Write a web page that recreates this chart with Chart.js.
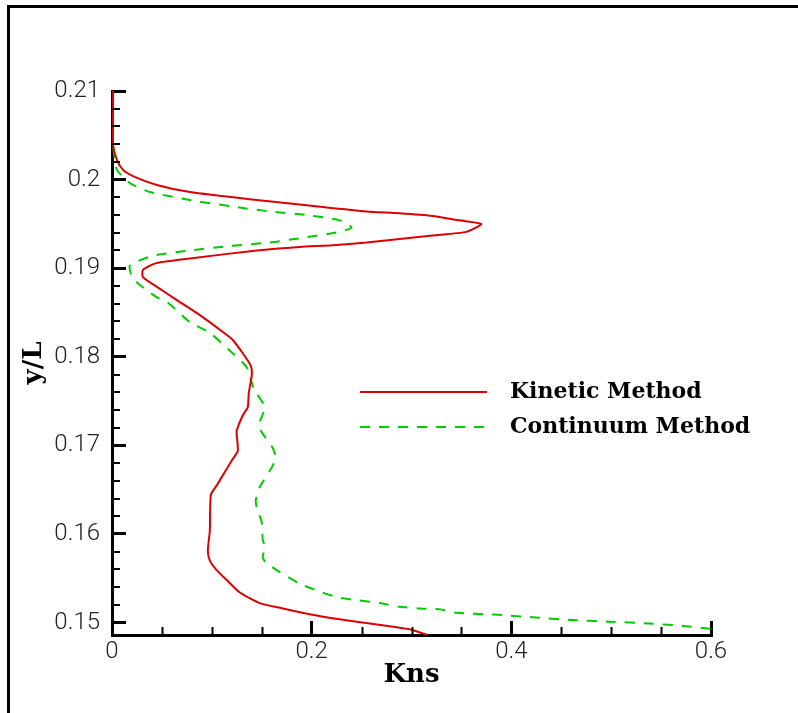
<!DOCTYPE html>
<html>
<head>
<meta charset="utf-8">
<script src="https://cdn.jsdelivr.net/npm/chart.js@4"></script>
<style>
  html, body { margin: 0; padding: 0; background: #fff; overflow: hidden; }
  #wrap { position: relative; width: 798px; height: 713px; }
  #frame { position: absolute; left: 7px; top: 5px; width: 2000px; height: 2000px;
           border-left: 3px solid #000; border-top: 3px solid #000; pointer-events: none; }
</style>
</head>
<body>
<div id="wrap">
  <canvas id="profileChart" width="798" height="713"></canvas>
  <div id="frame"></div>
</div>
<script>
// values, listed top to bottom
const yKinetic = [0.2100, 0.2050, 0.2039, 0.2022, 0.2011, 0.2004, 0.1994, 0.1986, 0.1977,
  0.1972, 0.1969, 0.1964, 0.1962, 0.1959, 0.1954, 0.1950, 0.1941, 0.1937, 0.1933, 0.1929,
  0.1926, 0.1924, 0.1920, 0.1911, 0.1906, 0.1898, 0.1890, 0.1879, 0.1864, 0.1847, 0.1828,
  0.1819, 0.1804, 0.1790, 0.1779, 0.1759, 0.1743, 0.1734, 0.1717, 0.1711, 0.1694, 0.1683,
  0.1670, 0.1655, 0.1644, 0.1604, 0.1581, 0.1570, 0.1559, 0.1548, 0.1534, 0.1522, 0.1516,
  0.1508, 0.1502, 0.1497, 0.1492, 0.1486];
const kinetic = [0.001, 0.001, 0.001, 0.005, 0.011, 0.021, 0.045, 0.078, 0.145,
  0.188, 0.211, 0.255, 0.288, 0.321, 0.348, 0.370, 0.355, 0.321, 0.288, 0.255,
  0.221, 0.188, 0.145, 0.078, 0.045, 0.031, 0.031, 0.045, 0.065, 0.088, 0.111,
  0.121, 0.131, 0.139, 0.140, 0.137, 0.136, 0.131, 0.125, 0.125, 0.126, 0.120,
  0.113, 0.105, 0.099, 0.098, 0.096, 0.098, 0.105, 0.115, 0.128, 0.148, 0.171,
  0.205, 0.238, 0.271, 0.300, 0.316];

const yContinuum = [0.2100, 0.2040, 0.2030, 0.2011, 0.1996, 0.1986, 0.1977, 0.1970, 0.1964,
  0.1960, 0.1954, 0.1946, 0.1941, 0.1935, 0.1929, 0.1925, 0.1920, 0.1914, 0.1903, 0.1890,
  0.1881, 0.1867, 0.1861, 0.1839, 0.1827, 0.1807, 0.1788, 0.1764, 0.1743, 0.1723, 0.1715,
  0.1697, 0.1686, 0.1675, 0.1653, 0.1638, 0.1630, 0.1613, 0.1593, 0.1587, 0.1573, 0.1567,
  0.1557, 0.1544, 0.1535, 0.1528, 0.1525, 0.1522, 0.1518, 0.1516, 0.1515, 0.1511, 0.1509,
  0.1506, 0.1503, 0.1501, 0.1499, 0.1496, 0.1493];
const continuum = [0.001, 0.001, 0.002, 0.005, 0.018, 0.038, 0.078, 0.118, 0.158,
  0.195, 0.228, 0.240, 0.228, 0.195, 0.158, 0.118, 0.078, 0.041, 0.018, 0.020,
  0.028, 0.045, 0.056, 0.078, 0.098, 0.118, 0.135, 0.142, 0.153, 0.147, 0.150,
  0.161, 0.164, 0.160, 0.148, 0.144, 0.145, 0.150, 0.151, 0.153, 0.151, 0.155,
  0.168, 0.188, 0.208, 0.228, 0.248, 0.268, 0.288, 0.308, 0.328, 0.345, 0.383,
  0.421, 0.460, 0.498, 0.538, 0.575, 0.600];

const xTicks = [0, 0.2, 0.4, 0.6];
const yTicks = [0.15, 0.16, 0.17, 0.18, 0.19, 0.2, 0.21];
const xMinorStep = 0.05;
const yMinorStep = 0.002;

function toPoints(xs, ys) {
    return xs.map((v, i) => ({ x: v, y: ys[i] }));
}

// short inward minor ticks
const minorTicks = {
    id: 'minorTicks',
    afterDraw(chart) {
        const { ctx, chartArea, scales } = chart;
        ctx.save();
        ctx.strokeStyle = '#000';
        ctx.lineWidth = 2;
        ctx.beginPath();
        for (let v = 0; v <= 0.6 + 1e-9; v += xMinorStep) {
            if (xTicks.some(t => Math.abs(t - v) < 1e-6)) continue;
            const px = Math.round(scales.x.getPixelForValue(v)) + 0.5;
            ctx.moveTo(px, chartArea.bottom);
            ctx.lineTo(px, chartArea.bottom - 8);
        }
        for (let v = 0.148; v <= 0.21 + 1e-9; v += yMinorStep) {
            if (v < scales.y.min) continue;
            if (yTicks.some(t => Math.abs(t - v) < 1e-6)) continue;
            const py = Math.round(scales.y.getPixelForValue(v));
            ctx.moveTo(chartArea.left, py);
            ctx.lineTo(chartArea.left + 8, py);
        }
        ctx.stroke();
        ctx.restore();
    }
};

// legend inside the plot, line sample then label
const insideLegend = {
    id: 'insideLegend',
    afterDraw(chart) {
        const { ctx } = chart;
        const rows = [392, 427];
        ctx.save();
        chart.data.datasets.forEach((ds, i) => {
            const y = rows[i];
            ctx.strokeStyle = ds.borderColor;
            ctx.lineWidth = ds.borderWidth;
            ctx.setLineDash(ds.borderDash || []);
            ctx.beginPath();
            ctx.moveTo(360, y);
            ctx.lineTo(487, y);
            ctx.stroke();
            ctx.setLineDash([]);
            ctx.fillStyle = '#000';
            ctx.font = 'bold 22px "DejaVu Serif"';
            ctx.textBaseline = 'middle';
            ctx.textAlign = 'left';
            ctx.fillText(ds.label, 510, y);
        });
        ctx.restore();
    }
};

const tickFont = { family: 'Roboto', size: 24, weight: 300 };
const titleFont = { family: 'DejaVu Serif', size: 26, weight: 'bold' };

let ctx = document.getElementById('profileChart').getContext('2d');
let chart = new Chart(ctx, {
    type: 'scatter',
    data: {
        datasets: [{
            label: 'Kinetic Method',
            data: toPoints(kinetic, yKinetic),
            showLine: true,
            borderColor: '#dd0000',
            borderWidth: 2,
            pointRadius: 0,
            tension: 0.2
        },
        {
            label: 'Continuum Method',
            data: toPoints(continuum, yContinuum),
            showLine: true,
            borderColor: '#00cc00',
            borderWidth: 2,
            borderDash: [10, 9],
            pointRadius: 0,
            tension: 0.2
        }]
    },
    options: {
        responsive: false,
        animation: false,
        layout: { padding: { left: 0, top: 91, right: 87, bottom: 0 } },
        plugins: { legend: { display: false }, tooltip: { enabled: false } },
        scales: {
            x: {
                type: 'linear',
                min: 0,
                max: 0.6,
                afterFit: (scale) => { scale.height = 78; },
                afterBuildTicks: (scale) => { scale.ticks = xTicks.map(v => ({ value: v })); },
                ticks: {
                    font: tickFont,
                    color: '#222',
                    padding: 17,
                    maxRotation: 0,
                    callback: (v) => String(Number(v.toFixed(2)))
                },
                grid: { drawOnChartArea: false, tickLength: -14, tickWidth: 3, tickColor: '#000' },
                border: { color: '#000', width: 3 },
                title: { display: true, text: 'Kns', font: titleFont, color: '#000', padding: { top: 0, bottom: 22 } }
            },
            y: {
                type: 'linear',
                min: 0.1486,
                max: 0.21,
                afterFit: (scale) => { scale.width = 112; },
                afterBuildTicks: (scale) => { scale.ticks = yTicks.map(v => ({ value: v })); },
                ticks: {
                    font: tickFont,
                    color: '#222',
                    padding: 26,
                    callback: (v) => String(Number(v.toFixed(2)))
                },
                grid: { drawOnChartArea: false, tickLength: -14, tickWidth: 3, tickColor: '#000' },
                border: { color: '#000', width: 3 },
                title: { display: true, text: 'y/L', font: titleFont, color: '#000', padding: { top: 19, bottom: 0 } }
            }
        }
    },
    plugins: [minorTicks, insideLegend]
});
</script>
</body>
</html>
